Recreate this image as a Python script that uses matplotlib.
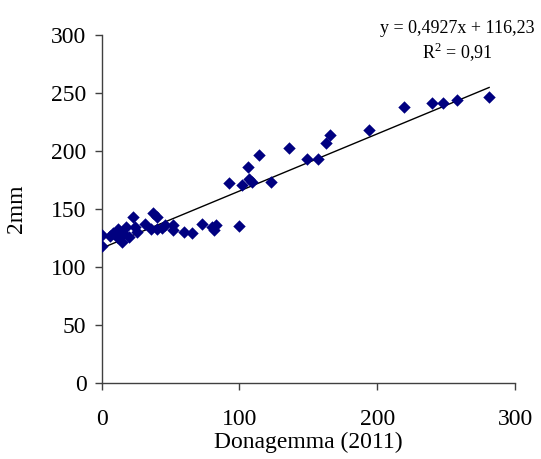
import matplotlib.pyplot as plt
import numpy as np

plt.rcParams['font.family'] = ['Liberation Serif', 'DejaVu Serif']
plt.rcParams['mathtext.fontset'] = 'custom'
plt.rcParams['mathtext.rm'] = 'Liberation Serif'

# Donagemma (2011) vs 2mm measurements
donagemma = [0.5, 0.5, 6, 8.4, 10.9, 12, 14.5, 15, 15.7, 17.6,
             20, 22.5, 24.2, 25.4, 31.4, 35.8, 37.5, 39.9, 39.9, 43.5,
             46, 52, 52, 60, 65.3, 73, 79.8, 81.5, 82.7, 99.9,
             92.4, 102, 106.4, 107, 109, 113.9, 122.6, 135.6, 148.8, 157.2,
             162.8, 165.9, 194.2, 219.4, 240, 247.5, 257.6, 281.2]
mm2 = [118, 128, 127, 129, 126, 133, 129.6, 121.8, 129, 134.7,
       126, 142.8, 134.7, 130.4, 137, 132.5, 146.5, 142.8, 132.5, 133.4,
       136.2, 136.2, 131.9, 130.4, 129, 136.8, 134.7, 131.9, 136.2, 135.3,
       172.2, 170.7, 186.2, 176, 173, 196.6, 173.4, 203, 192.8, 192.8,
       206.9, 213.5, 218.4, 237.7, 241.6, 241.6, 244, 246.8]

slope, intercept = 0.4927, 116.23
r2 = 0.91

fig = plt.figure(figsize=(5.41, 4.59), dpi=100)
ax = fig.add_axes([0.188, 0.1656, 0.764, 0.7581])

ax.scatter(donagemma, mm2, marker='D', s=40, color='#000080', linewidths=0, zorder=3)

xs = np.array([0, max(donagemma)])
ax.plot(xs, slope * xs + intercept, color='black', lw=1, zorder=2)

ax.set_xlim(0, 300)
ax.set_ylim(0, 300)
ax.set_xticks([0, 100, 200, 300])
ax.set_yticks(np.arange(0, 301, 50))

for side in ['top', 'right']:
    ax.spines[side].set_visible(False)
for side in ['left', 'bottom']:
    ax.spines[side].set_color('#404040')
    ax.spines[side].set_linewidth(1)

ax.tick_params(axis='both', direction='out', length=5, width=1, color='#404040',
               labelsize=17, pad=6)
ax.tick_params(axis='x', pad=14)

ax.set_xlabel('Donagemma (2011)', fontsize=17, labelpad=1)
ax.set_ylabel('2mm', fontsize=17, labelpad=17)

fig.text(0.845, 0.938, 'y = 0,4927x + 116,23', fontsize=13, ha='center', va='center')
fig.text(0.845, 0.888, 'R$^{2}$ = 0,91', fontsize=13, ha='center', va='center')

fig.savefig('out.png', dpi=100)
